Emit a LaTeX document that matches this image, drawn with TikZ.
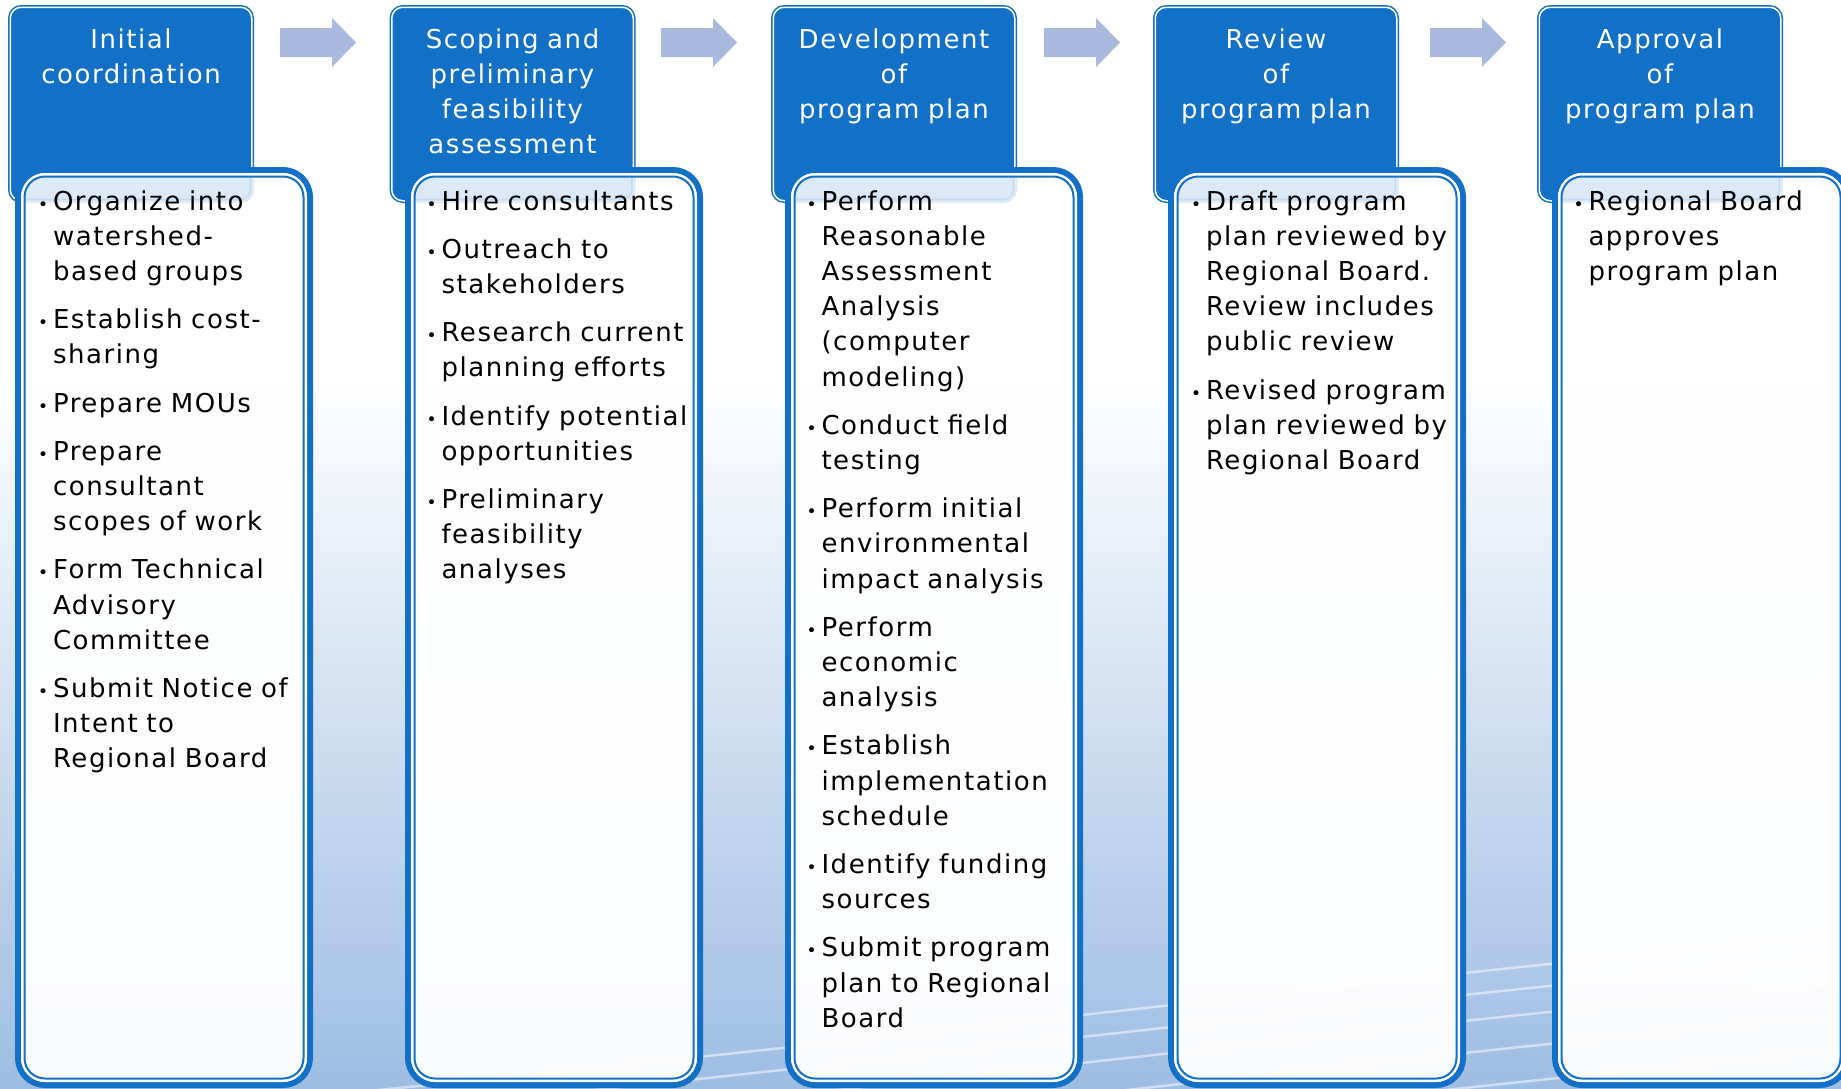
\documentclass[tikz,border=0pt]{standalone}
\usepackage{fontspec}
\setmainfont{DejaVu Sans}[LetterSpace=6]
\usetikzlibrary{calc}
\definecolor{hblue}{RGB}{18,112,199}
\definecolor{arrowc}{RGB}{170,185,222}
\definecolor{bgmid}{RGB}{224,233,245}
\definecolor{bgbot}{RGB}{158,189,226}
\newcommand{\bul}{\llap{{\fontsize{17}{17}\selectfont •}\hspace{4.9pt}}}
\newcommand{\itmfirst}{\noindent\bul\rule{0pt}{24pt}}
\newcommand{\itm}{\par\vspace{13pt}\noindent\bul}
\newcommand{\cdeco}[2]{%
  \begin{scope}
    \clip[rounded corners=21pt] ([shift={(6.5,6.5)}]#1.north west) rectangle ([shift={(-6.5,-6.5)}]#1.south east);
    \node[hdr, opacity=0.11] at (#2) {};
  \end{scope}
  \draw[white,line width=2.5pt,rounded corners=23pt] ([shift={(4.25,4.25)}]#1.north west) rectangle ([shift={(-4.25,-4.25)}]#1.south east);
  \draw[hblue,line width=2pt,rounded corners=20.5pt] ([shift={(6.5,6.5)}]#1.north west) rectangle ([shift={(-6.5,-6.5)}]#1.south east);}
\newcommand{\blockarrow}[1]{%
  \fill[arrowc] (#1) ++(-38,-14.5) -- ++(52,0) -- ++(0,-10) -- ++(24,24.5) -- ++(-24,24.5) -- ++(0,-10) -- ++(-52,0) -- cycle;}
\begin{document}
\begin{tikzpicture}[x=1pt,y=-1pt,
  hdr/.style={rectangle, rounded corners=11pt, fill=hblue, draw=hblue, line width=1.5pt,
    double=white, double distance=1.5pt, inner sep=0pt, outer sep=0pt,
    minimum width=241.5pt, minimum height=193.5pt},
  cnt/.style={rectangle, rounded corners=27pt, fill=white, fill opacity=0.965, draw=hblue,
    line width=6pt, inner sep=0pt, outer sep=0pt, minimum width=292pt, minimum height=915pt},
  htext/.style={anchor=north, inner sep=0pt, outer sep=0pt, text width=246pt, align=center,
    text=white, font=\fontsize{26}{35.2}\selectfont},
  ctext/.style={anchor=north west, inner sep=0pt, outer sep=0pt, text width=290pt, align=left,
    text=black, font=\fontsize{26}{35.2}\selectfont}]
\useasboundingbox (0,0) rectangle (1841,1088);
\clip (0,0) rectangle (1841,1088);
% background
\fill[white] (0,0) rectangle (1841,1088);
\shade[top color=white, middle color=bgmid, bottom color=bgbot] (0,380) rectangle (1841,1088);
\foreach \d in {0,22,48,80,115}
  \draw[white, opacity=0.5, line width=2.5pt] (0,1125+\d) .. controls (700,1065+\d) and (1300,985+\d) .. (1841,935+\d);

% arrows
\coordinate (a1) at (318,42.5);
\coordinate (a2) at (699,42.5);
\coordinate (a3) at (1082,42.5);
\coordinate (a4) at (1468,42.5);
\blockarrow{a1}
\blockarrow{a2}
\blockarrow{a3}
\blockarrow{a4}

% column 1
\node[hdr] (h1) at (131,104) {};
\node[htext] (ht1) at (131,24) {\rule{0pt}{24pt}Initial\\coordination};
\node[cnt] (c1) at (164,627.5) {};
\cdeco{c1}{h1}
\node[ctext] (t1) at (53,186) {\itmfirst Organize into\\watershed-\\based groups
\itm Establish cost-\\sharing
\itm Prepare MOUs
\itm Prepare\\consultant\\scopes of work
\itm Form Technical\\Advisory\\Committee
\itm Submit Notice of\\Intent to\\Regional Board};

% column 2
\node[hdr] (h2) at (512.5,104) {};
\node[htext] (ht2) at (512.5,24) {\rule{0pt}{24pt}Scoping and\\preliminary\\feasibility\\assessment};
\node[cnt] (c2) at (554,627.5) {};
\cdeco{c2}{h2}
\node[ctext] (t2) at (441.5,186) {\itmfirst Hire consultants
\itm Outreach to\\stakeholders
\itm Research current\\planning efforts
\itm Identify potential\\opportunities
\itm Preliminary\\feasibility\\analyses};

% column 3
\node[hdr] (h3) at (894,104) {};
\node[htext] (ht3) at (894,24) {\rule{0pt}{24pt}Development\\of\\program plan};
\node[cnt] (c3) at (934,627.5) {};
\cdeco{c3}{h3}
\node[ctext] (t3) at (821.5,186) {\itmfirst Perform\\Reasonable\\Assessment\\Analysis\\(computer\\modeling)
\itm Conduct field\\testing
\itm Perform initial\\environmental\\impact analysis
\itm Perform\\economic\\analysis
\itm Establish\\implementation\\schedule
\itm Identify funding\\sources
\itm Submit program\\plan to Regional\\Board};

% column 4
\node[hdr] (h4) at (1276,104) {};
\node[htext] (ht4) at (1276,24) {\rule{0pt}{24pt}Review\\of\\program plan};
\node[cnt] (c4) at (1317,627.5) {};
\cdeco{c4}{h4}
\node[ctext] (t4) at (1206,186) {\itmfirst Draft program\\plan reviewed by\\Regional Board.\\Review includes\\public review
\itm Revised program\\plan reviewed by\\Regional Board};

% column 5
\node[hdr] (h5) at (1660,104) {};
\node[htext] (ht5) at (1660,24) {\rule{0pt}{24pt}Approval\\of\\program plan};
\node[cnt] (c5) at (1701,627.5) {};
\cdeco{c5}{h5}
\node[ctext] (t5) at (1588.5,186) {\itmfirst Regional Board\\approves\\program plan};
\end{tikzpicture}
\end{document}
